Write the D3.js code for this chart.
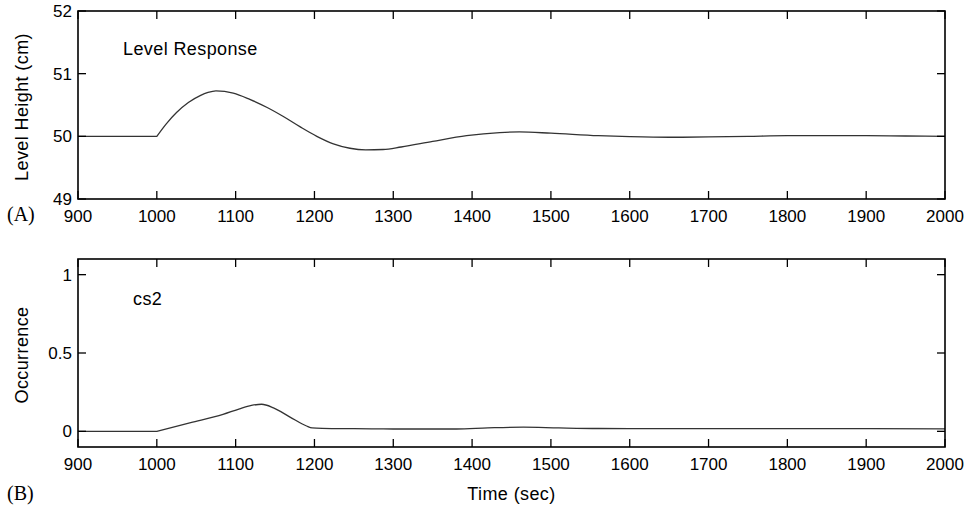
<!DOCTYPE html>
<html>
<head>
<meta charset="utf-8">
<script src="https://cdn.jsdelivr.net/npm/d3@7/dist/d3.min.js"></script>
<style>
  html, body { margin: 0; padding: 0; background: #fff; }
  svg { display: block; }
  text { font-family: "Liberation Sans", Arial, sans-serif; fill: #000; }
</style>
</head>
<body>
<svg id="chart" width="967" height="515"></svg>
<script>
// ---- Data ----
const xTicks = [900, 1000, 1100, 1200, 1300, 1400, 1500, 1600, 1700, 1800, 1900, 2000];
const levelTicks = [49, 50, 51, 52];
const occTicks = [0, 0.5, 1];
const occTickLabels = ["0", "0.5", "1"];
const stepTime = 1000; // disturbance starts here (sharp corner)

const levelTime = [900, 1000, 1012, 1025, 1040, 1055, 1065, 1075, 1097, 1118, 1140, 1160, 1182, 1203, 1224, 1245, 1265, 1287, 1310, 1350, 1393, 1435, 1460, 1500, 1560, 1600, 1650, 1700, 1750, 1800, 1850, 1900, 1950, 2000];
const levelValue = [50, 50, 50.20, 50.38, 50.54, 50.65, 50.70, 50.725, 50.69, 50.59, 50.46, 50.32, 50.15, 50.0, 49.88, 49.81, 49.785, 49.79, 49.83, 49.92, 50.01, 50.06, 50.07, 50.05, 50.01, 49.995, 49.985, 49.99, 50.0, 50.01, 50.01, 50.01, 50.005, 50.0];

const occTime = [900, 1000, 1043, 1084, 1105, 1120, 1133, 1148, 1169, 1190, 1197, 1210, 1250, 1300, 1380, 1420, 1465, 1510, 1560, 1650, 1800, 2000];
const occValue = [0, 0, 0.055, 0.108, 0.144, 0.165, 0.173, 0.15, 0.091, 0.034, 0.022, 0.019, 0.017, 0.015, 0.015, 0.022, 0.027, 0.022, 0.018, 0.017, 0.017, 0.016];

// ---- Layout ----
const svg = d3.select("#chart");
const left = 78, right = 945;
const panels = [
  { top: 11, bottom: 199, domain: [49, 52], ticks: levelTicks, labels: levelTicks.map(String),
    t: levelTime, v: levelValue, ylabel: "Level Height (cm)", title: "Level Response",
    titleX: 123, titleY: 55, tag: "(A)", tagY: 221 },
  { top: 259, bottom: 447, domain: [-0.1, 1.1], ticks: occTicks, labels: occTickLabels,
    t: occTime, v: occValue, ylabel: "Occurrence", title: "cs2",
    titleX: 133, titleY: 305, tag: "(B)", tagY: 500 }
];

const x = d3.scaleLinear().domain([900, 2000]).range([left, right]);
const tickLen = 8;
const fs = 17;     // tick labels
const lfs = 18;    // axis / title labels
const ls = 0.4;    // letter spacing for labels

panels.forEach(p => {
  const y = d3.scaleLinear().domain(p.domain).range([p.bottom, p.top]);
  const g = svg.append("g");

  const pts = p.t.map((t, i) => [t, p.v[i]]);
  const before = pts.filter(d => d[0] <= stepTime);
  const after = pts.filter(d => d[0] >= stepTime);
  const flat = d3.line().x(d => x(d[0])).y(d => y(d[1]));
  const smooth = d3.line().x(d => x(d[0])).y(d => y(d[1])).curve(d3.curveMonotoneX);
  const dPath = flat(before) + smooth(after).replace(/^M/, "L");

  g.append("path")
    .attr("d", dPath)
    .attr("fill", "none")
    .attr("stroke", "#333")
    .attr("stroke-width", 1.3)
    .attr("stroke-linejoin", "round");

  // ticks (inward, all four sides)
  const tg = g.append("g").attr("stroke", "#000").attr("stroke-width", 1.3);
  xTicks.forEach(t => {
    const xx = x(t);
    tg.append("line").attr("x1", xx).attr("x2", xx).attr("y1", p.bottom).attr("y2", p.bottom - tickLen);
    tg.append("line").attr("x1", xx).attr("x2", xx).attr("y1", p.top).attr("y2", p.top + tickLen);
  });
  p.ticks.forEach(t => {
    const yy = y(t);
    tg.append("line").attr("x1", left).attr("x2", left + tickLen).attr("y1", yy).attr("y2", yy);
    tg.append("line").attr("x1", right).attr("x2", right - tickLen).attr("y1", yy).attr("y2", yy);
  });

  // frame
  g.append("rect")
    .attr("x", left).attr("y", p.top)
    .attr("width", right - left).attr("height", p.bottom - p.top)
    .attr("fill", "none").attr("stroke", "#000").attr("stroke-width", 1.6);

  // x tick labels
  xTicks.forEach(t => {
    g.append("text")
      .attr("x", x(t)).attr("y", p.bottom + 23)
      .attr("text-anchor", "middle")
      .attr("font-size", fs)
      .text(t);
  });
  // y tick labels
  p.ticks.forEach((t, i) => {
    g.append("text")
      .attr("x", left - 6).attr("y", y(t) + 6)
      .attr("text-anchor", "end")
      .attr("font-size", fs)
      .text(p.labels[i]);
  });

  // y label
  g.append("text")
    .attr("transform", `translate(28,${(p.top + p.bottom) / 2 + 2}) rotate(-90)`)
    .attr("text-anchor", "middle")
    .attr("font-size", lfs)
    .attr("letter-spacing", ls)
    .text(p.ylabel);

  // title
  g.append("text")
    .attr("x", p.titleX).attr("y", p.titleY)
    .attr("font-size", lfs)
    .attr("letter-spacing", ls)
    .text(p.title);

  // panel tag
  g.append("text")
    .attr("x", 7).attr("y", p.tagY)
    .attr("font-size", 20)
    .style("font-family", "'Liberation Serif', 'Times New Roman', serif")
    .text(p.tag);
});

svg.append("text")
  .attr("x", (left + right) / 2).attr("y", 500)
  .attr("text-anchor", "middle")
  .attr("font-size", lfs)
  .attr("letter-spacing", ls)
  .text("Time (sec)");
</script>
</body>
</html>
